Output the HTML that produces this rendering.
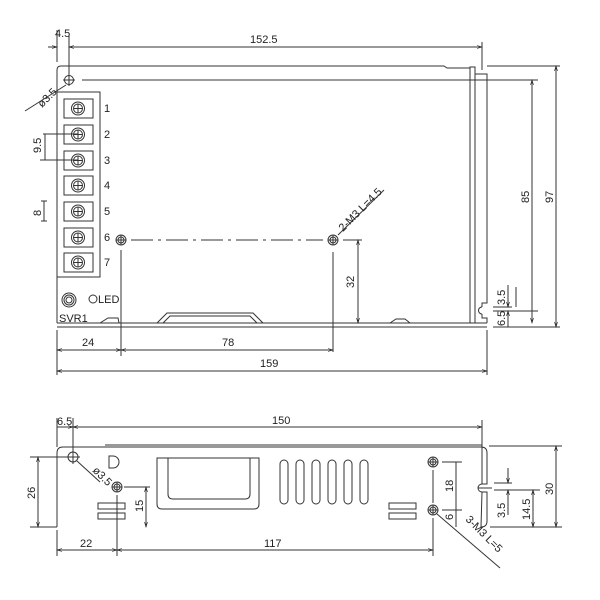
<!DOCTYPE html>
<html><head><meta charset="utf-8"><style>
html,body{margin:0;padding:0;background:#fff}
svg{display:block}
text{font-family:"Liberation Sans",Arial,sans-serif;font-size:11px;fill:#222}
</style></head><body>
<svg width="600" height="600" viewBox="0 0 600 600" xmlns="http://www.w3.org/2000/svg">
<defs>
<marker id="a" viewBox="0 0 10 10" refX="10" refY="5" markerWidth="7" markerHeight="5" orient="auto-start-reverse"><path d="M0,2 L10,5 L0,8" fill="none" stroke="#222" stroke-width="1.2"/></marker>
</defs>
<g fill="none" stroke="#333" stroke-width="1">
<!-- TOP VIEW body -->
<path d="M57,323 L57,70 Q57,66 61,66 L444,66 L447,68 L470,68"/>
<line x1="57" y1="323" x2="487" y2="323"/>
<line x1="57" y1="327" x2="487" y2="327"/>
<rect x="470" y="67" width="5" height="256"/>
<path d="M475,74 L487,74 L487,303 L482,303 L482,307 M482,314 L482,318 L487,318 L487,323"/>
<path d="M482,307 a3.5,3.5 0 0 0 0,7"/>
<line x1="475" y1="74" x2="475" y2="323"/>
<!-- hole -->
<circle cx="69" cy="80" r="4.5"/>
<line x1="63" y1="80" x2="75" y2="80"/><line x1="69" y1="74" x2="69" y2="86"/>
<line x1="82" y1="80" x2="538" y2="80"/>
<!-- terminal block -->
<rect x="57" y="92" width="43" height="185"/>
<g>
<rect x="64" y="99" width="29" height="19"/><circle cx="78" cy="108.5" r="6.5"/><circle cx="78" cy="108.5" r="4.5"/><line x1="78" y1="104" x2="78" y2="113"/><line x1="73.5" y1="108.5" x2="82.5" y2="108.5"/>
<rect x="64" y="125" width="29" height="19"/><circle cx="78" cy="134.5" r="6.5"/><circle cx="78" cy="134.5" r="4.5"/><line x1="78" y1="130" x2="78" y2="139"/><line x1="73.5" y1="134.5" x2="82.5" y2="134.5"/>
<rect x="64" y="151" width="29" height="19"/><circle cx="78" cy="160.5" r="6.5"/><circle cx="78" cy="160.5" r="4.5"/><line x1="78" y1="156" x2="78" y2="165"/><line x1="73.5" y1="160.5" x2="82.5" y2="160.5"/>
<rect x="64" y="176" width="29" height="19"/><circle cx="78" cy="185.5" r="6.5"/><circle cx="78" cy="185.5" r="4.5"/><line x1="78" y1="181" x2="78" y2="190"/><line x1="73.5" y1="185.5" x2="82.5" y2="185.5"/>
<rect x="64" y="202" width="29" height="19"/><circle cx="78" cy="211.5" r="6.5"/><circle cx="78" cy="211.5" r="4.5"/><line x1="78" y1="207" x2="78" y2="216"/><line x1="73.5" y1="211.5" x2="82.5" y2="211.5"/>
<rect x="64" y="228" width="29" height="19"/><circle cx="78" cy="237.5" r="6.5"/><circle cx="78" cy="237.5" r="4.5"/><line x1="78" y1="233" x2="78" y2="242"/><line x1="73.5" y1="237.5" x2="82.5" y2="237.5"/>
<rect x="64" y="253" width="29" height="19"/><circle cx="78" cy="262.5" r="6.5"/><circle cx="78" cy="262.5" r="4.5"/><line x1="78" y1="258" x2="78" y2="267"/><line x1="73.5" y1="262.5" x2="82.5" y2="262.5"/>
</g>
<!-- 9.5 / 8 dims -->
<line x1="43" y1="134" x2="78" y2="134"/><line x1="40" y1="160" x2="78" y2="160"/>
<line x1="45" y1="134" x2="45" y2="160"/>
<line x1="44" y1="201" x2="44" y2="221"/><line x1="41" y1="201" x2="47" y2="201"/><line x1="41" y1="221" x2="47" y2="221"/>
<!-- mount holes -->
<circle cx="121" cy="240" r="5"/><circle cx="121" cy="240" r="3"/><line x1="116" y1="240" x2="126" y2="240"/><line x1="121" y1="235" x2="121" y2="245"/>
<circle cx="333" cy="240" r="5"/><circle cx="333" cy="240" r="3"/><line x1="328" y1="240" x2="338" y2="240"/><line x1="333" y1="235" x2="333" y2="245"/>
<line x1="131" y1="240" x2="323" y2="240" stroke-dasharray="22,5,3,5"/>
<line x1="343" y1="240" x2="362" y2="240"/>
<line x1="333" y1="252" x2="333" y2="352"/>
<line x1="121" y1="250" x2="121" y2="356"/>
<line x1="338" y1="235" x2="384" y2="190"/>
<!-- SVR LED -->
<circle cx="69" cy="300" r="7"/><circle cx="69" cy="300" r="5"/><circle cx="69" cy="300" r="3"/>
<circle cx="93" cy="299" r="4"/>
<!-- bottom features -->
<path d="M100,323 L108,318 L118,318 L119,323"/>
<path d="M157,323 L167,313 L253,313 L263,323 M163,323 L170,316 L250,316 L257,323"/>
<path d="M390,323 L396,319 L405,319 L410,323"/>
<!-- dims top -->
<line x1="57" y1="30" x2="57" y2="62"/><line x1="69" y1="36" x2="69" y2="75"/>
<line x1="48" y1="47" x2="57" y2="47" marker-end="url(#a)"/>
<line x1="69" y1="47" x2="482" y2="47" marker-start="url(#a)" marker-end="url(#a)"/>
<line x1="482" y1="42" x2="482" y2="70"/>
<line x1="57" y1="330" x2="57" y2="375"/><line x1="487" y1="330" x2="487" y2="375"/>
<line x1="57" y1="350" x2="121" y2="350" marker-start="url(#a)" marker-end="url(#a)"/>
<line x1="121" y1="350" x2="333" y2="350" marker-start="url(#a)" marker-end="url(#a)"/>
<line x1="57" y1="371" x2="487" y2="371" marker-start="url(#a)" marker-end="url(#a)"/>
<line x1="358" y1="240" x2="358" y2="323" marker-start="url(#a)" marker-end="url(#a)"/>
<line x1="487" y1="66" x2="560" y2="66"/><line x1="493" y1="327" x2="560" y2="327"/>
<line x1="532" y1="80" x2="532" y2="323" marker-start="url(#a)" marker-end="url(#a)"/>
<line x1="556" y1="66" x2="556" y2="327" marker-start="url(#a)" marker-end="url(#a)"/>
<line x1="493" y1="307" x2="512" y2="307"/><line x1="493" y1="311" x2="538" y2="311"/>
<line x1="508" y1="285" x2="508" y2="307" marker-end="url(#a)"/>
<line x1="508" y1="311" x2="508" y2="327" marker-start="url(#a)"/>
<line x1="516" y1="287" x2="516" y2="307"/>
<line x1="532" y1="311" x2="532" y2="323"/>
<line x1="25" y1="111" x2="66" y2="85"/>
<!-- BOTTOM VIEW -->
<path d="M57,527 L57,453 Q57,447 63,447 L481,447 Q487,447 487,453 L487,484 L482,484 M482,492 L487,492 L487,521 Q487,527 481,527 Z"/>
<path d="M482,484 a4,4 0 0 0 0,8"/>
<line x1="478" y1="488" x2="492" y2="488"/>
<line x1="105" y1="445" x2="482" y2="445"/>
<circle cx="73" cy="457" r="5"/><line x1="66" y1="457" x2="80" y2="457"/><line x1="73" y1="450" x2="73" y2="464"/>
<path d="M109,456 L113,456 A6,6 0 0 1 113,468 L109,468 Z"/>
<circle cx="117" cy="487" r="5"/><circle cx="117" cy="487" r="3"/><line x1="112" y1="487" x2="122" y2="487"/><line x1="117" y1="482" x2="117" y2="492"/>
<path d="M157,458 L259,458 L259,504 Q259,509 254,509 L162,509 Q157,509 157,504 Z"/>
<path d="M168,458 L168,494 Q168,499 173,499 L245,499 Q250,499 250,494 L250,458"/>
<rect x="280" y="460" width="8" height="44" rx="4"/>
<rect x="296" y="460" width="8" height="44" rx="4"/>
<rect x="312" y="460" width="8" height="44" rx="4"/>
<rect x="328" y="460" width="8" height="44" rx="4"/>
<rect x="344" y="460" width="8" height="44" rx="4"/>
<rect x="360" y="460" width="8" height="44" rx="4"/>
<rect x="98" y="503" width="27" height="6"/><rect x="98" y="513" width="27" height="6"/>
<rect x="389" y="503" width="27" height="6"/><rect x="389" y="513" width="27" height="6"/>
<circle cx="433" cy="462" r="5"/><circle cx="433" cy="462" r="3"/><line x1="428" y1="462" x2="438" y2="462"/><line x1="433" y1="457" x2="433" y2="467"/>
<circle cx="433" cy="510" r="5"/><circle cx="433" cy="510" r="3"/><line x1="428" y1="510" x2="438" y2="510"/><line x1="433" y1="505" x2="433" y2="515"/>
<line x1="433" y1="470" x2="433" y2="503"/>
<line x1="433" y1="518" x2="433" y2="556"/>
<line x1="117" y1="495" x2="117" y2="556"/>
<line x1="57" y1="530" x2="57" y2="556"/>
<line x1="57" y1="550" x2="117" y2="550" marker-start="url(#a)" marker-end="url(#a)"/>
<line x1="117" y1="550" x2="433" y2="550" marker-start="url(#a)" marker-end="url(#a)"/>
<line x1="57" y1="418" x2="57" y2="447"/><line x1="73" y1="418" x2="73" y2="450"/>
<line x1="57" y1="427" x2="73" y2="427" marker-end="url(#a)"/>
<line x1="73" y1="427" x2="482" y2="427" marker-start="url(#a)" marker-end="url(#a)"/>
<line x1="482" y1="420" x2="482" y2="484"/>
<line x1="30" y1="457" x2="66" y2="457"/><line x1="30" y1="527" x2="57" y2="527"/>
<line x1="38" y1="457" x2="38" y2="527" marker-start="url(#a)" marker-end="url(#a)"/>
<line x1="124" y1="487" x2="150" y2="487"/>
<line x1="146" y1="487" x2="146" y2="527" marker-start="url(#a)" marker-end="url(#a)"/>
<line x1="442" y1="462" x2="462" y2="462"/><line x1="442" y1="510" x2="462" y2="510"/>
<line x1="456" y1="462" x2="456" y2="527" />
<line x1="489" y1="446" x2="562" y2="446"/><line x1="490" y1="527" x2="562" y2="527"/>
<line x1="556" y1="446" x2="556" y2="527" marker-start="url(#a)" marker-end="url(#a)"/>
<line x1="494" y1="483" x2="512" y2="483"/><line x1="494" y1="490" x2="540" y2="490"/>
<line x1="508" y1="468" x2="508" y2="483" marker-end="url(#a)"/>
<line x1="508" y1="490" x2="508" y2="515" marker-start="url(#a)"/>
<line x1="533" y1="490" x2="533" y2="527" marker-start="url(#a)" marker-end="url(#a)"/>
<line x1="77" y1="461" x2="100" y2="482"/>
<line x1="437" y1="514" x2="500" y2="568"/>
</g>
<!-- TEXT -->
<text x="55" y="37">4.5</text>
<text x="250" y="43">152.5</text>
<text x="104" y="112">1</text><text x="104" y="138">2</text><text x="104" y="164">3</text>
<text x="104" y="189">4</text><text x="104" y="215">5</text><text x="104" y="241">6</text><text x="104" y="266">7</text>
<text transform="translate(41,153) rotate(-90)">9.5</text>
<text transform="translate(41,216) rotate(-90)">8</text>
<text transform="translate(42,108) rotate(-45)">ø3.5</text>
<text x="98" y="303">LED</text>
<text x="59" y="322">SVR1</text>
<text x="82" y="346">24</text><text x="222" y="346">78</text><text x="260" y="367">159</text>
<text transform="translate(354,288) rotate(-90)">32</text>
<text transform="translate(529,203) rotate(-90)">85</text>
<text transform="translate(553,203) rotate(-90)">97</text>
<text transform="translate(505,305) rotate(-90)">3.5</text>
<text transform="translate(505,326) rotate(-90)">6.5</text>
<text transform="translate(343,232) rotate(-45)">2-M3 L=4.5</text>
<text x="57" y="425">6.5</text>
<text x="272" y="424">150</text>
<text transform="translate(35,499) rotate(-90)">26</text>
<text transform="translate(92,471) rotate(45)">ø3.5</text>
<text transform="translate(143,512) rotate(-90)">15</text>
<text transform="translate(453,492) rotate(-90)">18</text>
<text transform="translate(453,520) rotate(-90)">6</text>
<text transform="translate(505,518) rotate(-90)">3.5</text>
<text transform="translate(530,520) rotate(-90)">14.5</text>
<text transform="translate(553,495) rotate(-90)">30</text>
<text x="80" y="547">22</text><text x="264" y="547">117</text>
<text transform="translate(465,520) rotate(45)">3-M3 L=5</text>
</svg>
</body></html>
